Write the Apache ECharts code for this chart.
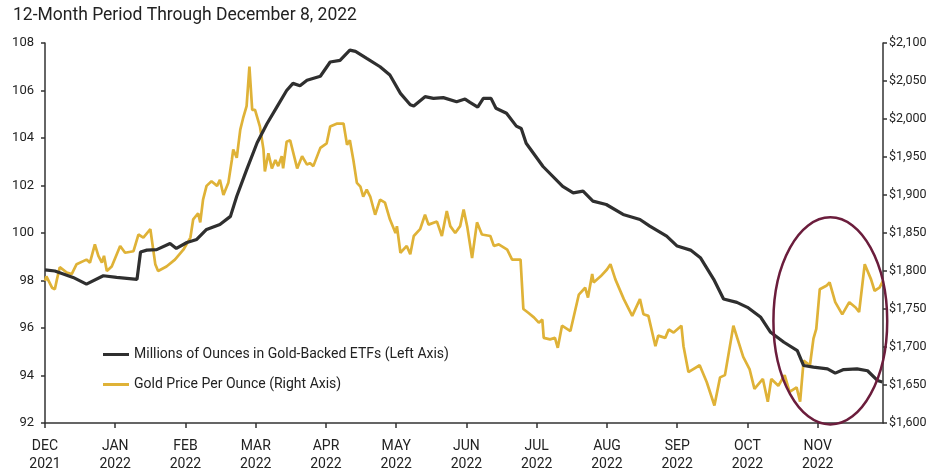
<!DOCTYPE html>
<html>
<head>
<meta charset="utf-8">
<script src="https://cdn.jsdelivr.net/npm/echarts@6/dist/echarts.min.js"></script>
<style>
  html, body { margin: 0; padding: 0; background: #fff; }
  #chart { width: 936px; height: 473px; }
</style>
</head>
<body>
<div id="chart"></div>
<script>
// x values are months since Dec 1, 2021 (0 = DEC 2021, 11 = NOV 2022)
var monthLabels = ['DEC', 'JAN', 'FEB', 'MAR', 'APR', 'MAY', 'JUN', 'JUL', 'AUG', 'SEP', 'OCT', 'NOV'];
var yearLabels = ['2021', '2022', '2022', '2022', '2022', '2022', '2022', '2022', '2022', '2022', '2022', '2022'];

// millions of ounces in gold-backed ETFs (left axis)
var etfMonths = [0.00, 0.14, 0.40, 0.59, 0.83, 1.02, 1.31, 1.33, 1.36, 1.45, 1.59, 1.78, 1.87, 2.02, 2.16,
  2.30, 2.49, 2.64, 2.73, 2.87, 3.02, 3.16, 3.30, 3.44, 3.53, 3.63, 3.73, 3.92, 4.06, 4.20, 4.34, 4.42,
  4.58, 4.77, 4.91, 5.06, 5.20, 5.25, 5.41, 5.53, 5.67, 5.86, 5.98, 6.05, 6.16, 6.24, 6.35, 6.42, 6.57,
  6.71, 6.78, 6.85, 7.09, 7.37, 7.52, 7.66, 7.80, 7.99, 8.23, 8.47, 8.61, 8.85, 9.00, 9.19, 9.33, 9.52,
  9.66, 9.85, 10.00, 10.19, 10.33, 10.52, 10.71, 10.80, 10.94, 11.14, 11.25, 11.37, 11.56, 11.71, 11.85, 11.92];
var etfOunces = [98.45, 98.40, 98.13, 97.85, 98.20, 98.13, 98.05, 98.10, 99.20, 99.28, 99.30, 99.56, 99.35, 99.60, 99.73,
  100.15, 100.36, 100.70, 101.55, 102.66, 103.80, 104.60, 105.30, 106.00, 106.30, 106.20, 106.43, 106.60, 107.20, 107.27, 107.70, 107.65,
  107.35, 107.00, 106.65, 105.88, 105.40, 105.35, 105.74, 105.67, 105.70, 105.53, 105.64, 105.50, 105.30, 105.67, 105.67, 105.25, 105.04,
  104.50, 104.40, 103.78, 102.80, 101.96, 101.69, 101.76, 101.34, 101.20, 100.78, 100.57, 100.29, 99.87, 99.45, 99.28, 98.96, 98.05,
  97.22, 97.08, 96.87, 96.45, 95.82, 95.40, 95.05, 94.42, 94.35, 94.28, 94.10, 94.25, 94.28, 94.20, 93.79, 93.73];

// gold price per ounce, USD (right axis)
var goldMonths = [0.00, 0.02, 0.10, 0.14, 0.17, 0.21, 0.31, 0.38, 0.45, 0.59, 0.64, 0.71, 0.76, 0.81, 0.84, 0.88, 0.95,
  1.07, 1.14, 1.26, 1.33, 1.40, 1.50, 1.57, 1.61, 1.73, 1.85, 1.97, 2.07, 2.11, 2.18, 2.21, 2.25, 2.30, 2.37,
  2.45, 2.49, 2.54, 2.61, 2.66, 2.68, 2.73, 2.78, 2.82, 2.87, 2.91, 2.95, 2.99, 3.06, 3.11, 3.13, 3.18, 3.23,
  3.28, 3.32, 3.37, 3.39, 3.44, 3.49, 3.59, 3.66, 3.73, 3.77, 3.82, 3.92, 4.01, 4.06, 4.16, 4.25, 4.30, 4.34,
  4.39, 4.44, 4.49, 4.53, 4.58, 4.63, 4.70, 4.77, 4.84, 4.91, 4.99, 5.01, 5.06, 5.15, 5.20, 5.25, 5.34, 5.41,
  5.46, 5.58, 5.65, 5.72, 5.77, 5.84, 5.91, 5.96, 6.01, 6.08, 6.15, 6.22, 6.34, 6.39, 6.46, 6.58, 6.65, 6.77,
  6.81, 6.88, 6.96, 7.03, 7.08, 7.10, 7.19, 7.26, 7.30, 7.36, 7.48, 7.60, 7.69, 7.73, 7.79, 7.81, 7.91, 8.00,
  8.05, 8.12, 8.24, 8.36, 8.47, 8.52, 8.59, 8.69, 8.73, 8.83, 8.88, 8.95, 9.06, 9.09, 9.16, 9.32, 9.42, 9.53,
  9.61, 9.68, 9.80, 9.94, 10.03, 10.10, 10.22, 10.29, 10.34, 10.44, 10.53, 10.60, 10.70, 10.75, 10.80, 10.89,
  10.94, 10.98, 11.03, 11.13, 11.17, 11.25, 11.35, 11.45, 11.54, 11.59, 11.67, 11.76, 11.81, 11.88, 11.93];
var goldPrice = [1787, 1793, 1778, 1776, 1789, 1805, 1798, 1796, 1809, 1815, 1811, 1835, 1820, 1811, 1820, 1800, 1806,
  1833, 1824, 1826, 1848, 1844, 1855, 1809, 1800, 1806, 1815, 1828, 1844, 1868, 1876, 1864, 1894, 1912, 1918,
  1912, 1920, 1900, 1916, 1946, 1960, 1949, 1986, 2001, 2017, 2069, 2012, 2012, 1990, 1960, 1931, 1955, 1935,
  1946, 1938, 1951, 1935, 1970, 1972, 1935, 1951, 1940, 1942, 1938, 1962, 1968, 1990, 1994, 1994, 1966, 1972,
  1946, 1916, 1911, 1898, 1907, 1898, 1874, 1894, 1890, 1868, 1850, 1859, 1824, 1833, 1822, 1846, 1855, 1874,
  1861, 1865, 1846, 1879, 1859, 1850, 1859, 1881, 1859, 1817, 1864, 1848, 1846, 1833, 1835, 1828, 1815, 1815,
  1750, 1745, 1739, 1732, 1736, 1712, 1710, 1712, 1699, 1728, 1721, 1769, 1778, 1765, 1796, 1785, 1793, 1802,
  1809, 1789, 1763, 1741, 1763, 1743, 1741, 1701, 1715, 1712, 1723, 1719, 1728, 1701, 1667, 1676, 1654, 1623,
  1660, 1663, 1728, 1687, 1671, 1645, 1658, 1628, 1658, 1649, 1663, 1641, 1647, 1628, 1682, 1676,
  1711, 1724, 1776, 1781, 1785, 1759, 1743, 1759, 1752, 1746, 1809, 1789, 1774, 1778, 1787];

// circled November region, in data units (months, left-axis ounces)
var circleCenter = [11.18, 96.3];
var circleRadius = [0.81, 4.36];

function pairs(xs, ys) {
  var out = [];
  for (var i = 0; i < xs.length; i++) out.push([xs[i], ys[i]]);
  return out;
}

var axisColor = '#333333';
var textColor = '#222222';
var goldColor = '#dfb237';
var etfColor = '#2f2f2f';
var fontFamily = 'Roboto, "Open Sans", sans-serif';

var chart = echarts.init(document.getElementById('chart'));
chart.setOption({
  animation: false,
  title: {
    text: '12-Month Period Through December 8, 2022',
    left: 8,
    top: 2,
    textStyle: { fontSize: 17.5, fontWeight: 'normal', color: textColor, fontFamily: fontFamily }
  },
  legend: {
    orient: 'vertical',
    left: 98,
    top: 341,
    itemWidth: 26,
    itemHeight: 3,
    itemGap: 13,
    icon: 'rect',
    textStyle: { fontSize: 14, lineHeight: 17, color: textColor, fontFamily: fontFamily },
    data: [
      { name: 'Millions of Ounces in Gold-Backed ETFs (Left Axis)', itemStyle: { color: etfColor } },
      { name: 'Gold Price Per Ounce (Right Axis)', itemStyle: { color: goldColor } }
    ]
  },
  grid: { left: 45, right: 53, top: 43, bottom: 49, containLabel: false },
  xAxis: {
    type: 'value',
    min: 0,
    max: 11.93,
    interval: 1,
    splitLine: { show: false },
    axisLine: { lineStyle: { color: axisColor, width: 1.5 } },
    axisTick: { length: 5, lineStyle: { color: axisColor, width: 1.5 } },
    axisLabel: {
      showMaxLabel: false,
      margin: 14,
      fontSize: 14,
      lineHeight: 18,
      color: textColor,
      fontFamily: fontFamily,
      formatter: function (v) {
        if (Math.abs(v - Math.round(v)) > 1e-6 || !monthLabels[Math.round(v)]) return '';
        var i = Math.round(v);
        return monthLabels[i] + '\n' + yearLabels[i];
      }
    }
  },
  yAxis: [
    {
      type: 'value',
      min: 92,
      max: 108,
      interval: 2,
      splitLine: { show: false },
      axisLine: { show: true, lineStyle: { color: axisColor, width: 1.5 } },
      axisTick: { show: true, length: 4, lineStyle: { color: axisColor, width: 1.5 } },
      axisLabel: { margin: 11, fontSize: 13, color: textColor, fontFamily: fontFamily }
    },
    {
      type: 'value',
      position: 'right',
      min: 1600,
      max: 2100,
      interval: 50,
      splitLine: { show: false },
      axisLine: { show: true, lineStyle: { color: axisColor, width: 1.5 } },
      axisTick: { show: true, length: 4, lineStyle: { color: axisColor, width: 1.5 } },
      axisLabel: {
        margin: 6,
        fontSize: 12.5,
        color: textColor,
        fontFamily: fontFamily,
        formatter: function (v) { return '$' + v.toLocaleString('en-US'); }
      }
    }
  ],
  series: [
    {
      name: 'Gold Price Per Ounce (Right Axis)',
      type: 'line',
      yAxisIndex: 1,
      showSymbol: false,
      z: 2,
      lineStyle: { color: goldColor, width: 2.7 },
      itemStyle: { color: goldColor },
      data: pairs(goldMonths, goldPrice)
    },
    {
      name: 'Millions of Ounces in Gold-Backed ETFs (Left Axis)',
      type: 'line',
      yAxisIndex: 0,
      showSymbol: false,
      z: 3,
      lineStyle: { color: etfColor, width: 3.2 },
      itemStyle: { color: etfColor },
      data: pairs(etfMonths, etfOunces)
    }
  ]
});

// ellipse highlighting the November move, placed through the axes
var c = chart.convertToPixel({ xAxisIndex: 0, yAxisIndex: 0 }, circleCenter);
var e = chart.convertToPixel({ xAxisIndex: 0, yAxisIndex: 0 },
  [circleCenter[0] + circleRadius[0], circleCenter[1] + circleRadius[1]]);
chart.setOption({
  graphic: [{
    type: 'ellipse',
    z: 10,
    shape: { cx: c[0], cy: c[1], rx: e[0] - c[0], ry: c[1] - e[1] },
    style: { fill: 'none', stroke: '#6b1d3c', lineWidth: 2.5 }
  }]
});
</script>
</body>
</html>
